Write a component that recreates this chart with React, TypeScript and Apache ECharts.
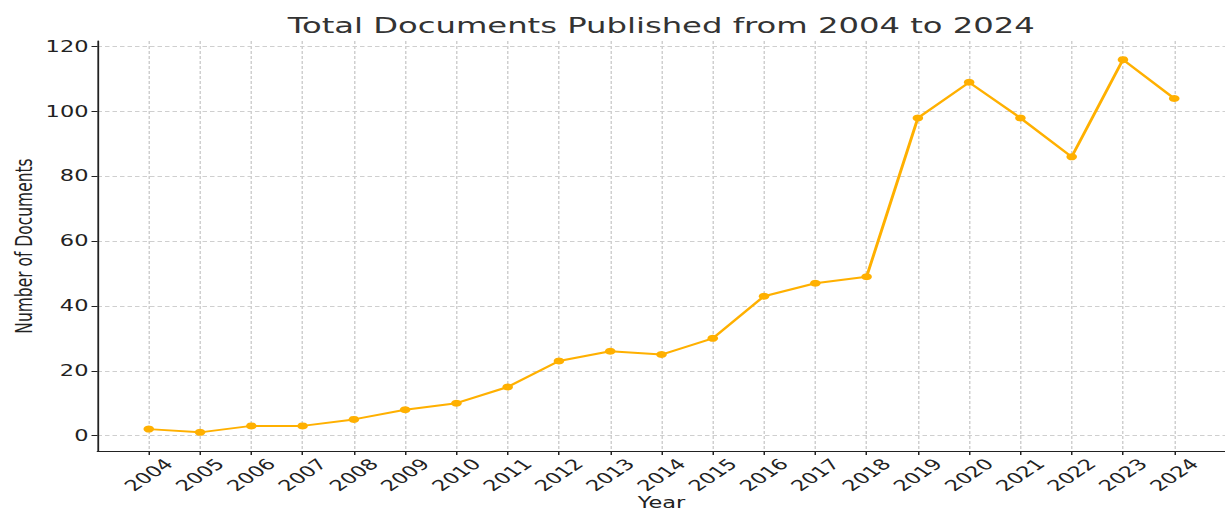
import React, { useEffect, useRef } from "react";
import * as echarts from "echarts";

// ---- data ----
const years = [2004, 2005, 2006, 2007, 2008, 2009, 2010, 2011, 2012, 2013, 2014, 2015, 2016, 2017, 2018, 2019, 2020, 2021, 2022, 2023, 2024];
const documents = [2, 1, 3, 3, 5, 8, 10, 15, 23, 26, 25, 30, 43, 47, 49, 98, 109, 98, 86, 116, 104];
const yTicks = [0, 20, 40, 60, 80, 100, 120];
const titleText = "Total Documents Published from 2004 to 2024";
const xAxisName = "Year";
const yAxisName = "Number of Documents";

// the reference figure is stretched horizontally; draw narrower and stretch with CSS
const STRETCH = 1.5;
const FULL_W = 1225;
const FULL_H = 511;
const BASE_W = FULL_W / STRETCH;

const LINE_COLOR = "#FFB000";
const AXIS_COLOR = "#222";
const GRID_COLOR = "#cfcfcf";
const FONT = "DejaVu Sans";

export default function App() {
  const ref = useRef<HTMLDivElement | null>(null);

  useEffect(() => {
    if (!ref.current) return;
    const chart = echarts.init(ref.current, undefined, { renderer: "svg" });
    const gridLeft = 65;
    const plotCenter = (gridLeft + BASE_W) / 2;
    chart.setOption({
      animation: false,
      backgroundColor: "#ffffff",
      textStyle: { fontFamily: FONT },
      grid: { left: gridLeft, right: 0, top: 41, bottom: 60, containLabel: false, outerBoundsMode: "none" },
      graphic: [
        {
          type: "text",
          x: plotCenter,
          y: 26,
          style: {
            text: titleText,
            fontSize: 21.5,
            fontFamily: FONT,
            fill: "#333",
            align: "center",
            verticalAlign: "middle",
          },
        },
      ],
      xAxis: {
        type: "value",
        min: 2003,
        max: 2025,
        interval: 1,
        name: xAxisName,
        nameLocation: "middle",
        nameGap: 44,
        nameMoveOverlap: false,
        nameTextStyle: { fontSize: 15, lineHeight: 15, color: AXIS_COLOR, fontFamily: FONT },
        axisLine: { show: true, onZero: false, lineStyle: { color: AXIS_COLOR, width: 1.2 } },
        axisTick: { show: true, customValues: years, length: 4, lineStyle: { color: AXIS_COLOR, width: 1 } },
        axisLabel: {
          customValues: years,
          formatter: (v: number) => String(v),
          rotate: 45,
          align: "center",
          verticalAlign: "middle",
          margin: 24,
          fontSize: 15,
          color: AXIS_COLOR,
          fontFamily: FONT,
        },
        splitLine: { show: true, lineStyle: { color: GRID_COLOR, type: [3, 2], width: 1 } },
      },
      yAxis: {
        type: "value",
        min: -4.75,
        max: 121.75,
        name: yAxisName,
        nameLocation: "middle",
        nameGap: 41,
        nameMoveOverlap: false,
        nameTextStyle: { fontSize: 15.5, color: AXIS_COLOR, fontFamily: FONT },
        axisLine: { show: true, onZero: false, lineStyle: { color: AXIS_COLOR, width: 1.2 } },
        axisTick: { show: true, customValues: yTicks, length: 4, lineStyle: { color: AXIS_COLOR, width: 1 } },
        axisLabel: { customValues: yTicks, margin: 6, fontSize: 15, color: AXIS_COLOR, fontFamily: FONT },
        splitLine: { show: true, lineStyle: { color: GRID_COLOR, type: [3, 2], width: 1 } },
      },
      series: [
        {
          type: "line",
          data: years.map((y, i) => [y, documents[i]]),
          symbol: "circle",
          symbolSize: 7,
          lineStyle: { color: LINE_COLOR, width: 2 },
          itemStyle: { color: LINE_COLOR, borderWidth: 0 },
        },
      ],
    });
    return () => chart.dispose();
  }, []);

  return (
    <div
      style={{
        position: "fixed",
        left: 0,
        top: 0,
        width: FULL_W,
        height: FULL_H,
        overflow: "hidden",
        background: "#fff",
      }}
    >
      <div
        ref={ref}
        style={{
          width: BASE_W,
          height: FULL_H,
          transform: `scaleX(${STRETCH})`,
          transformOrigin: "0 0",
        }}
      />
    </div>
  );
}
